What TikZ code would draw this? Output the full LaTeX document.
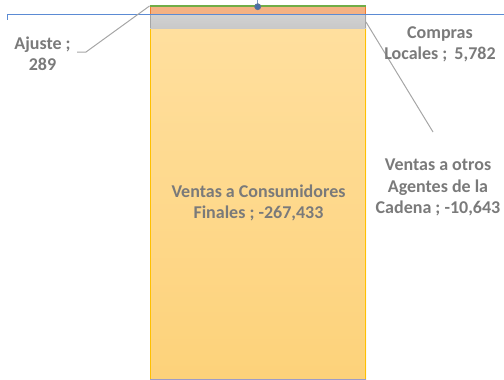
\documentclass[tikz,border=0pt]{standalone}
\usepackage{fontspec}
\setmainfont{Carlito}
\definecolor{txtgray}{HTML}{7A7A7A}
\definecolor{axisblue}{HTML}{5B8BD4}
\definecolor{ybord}{HTML}{FFC000}
\definecolor{ytop}{HTML}{FFDF9E}
\definecolor{ybot}{HTML}{FDD27A}
\definecolor{salmon}{HTML}{F4B183}
\definecolor{sbord}{HTML}{ED7D31}
\definecolor{gfill}{HTML}{C9C9C9}
\definecolor{gbord}{HTML}{A5A5A5}
\definecolor{green}{HTML}{70AD47}
\definecolor{leader}{HTML}{A6A6A6}
\definecolor{dotblue}{HTML}{4A6FA8}
\tikzset{
  lbl/.style={text=txtgray, font=\fontsize{18}{21.5}\selectfont\bfseries, align=center, inner sep=0pt},
  lead/.style={draw=leader, line width=1pt},
}
\begin{document}
\begin{tikzpicture}[x=1pt,y=-1pt]
\useasboundingbox (0,0) rectangle (504,380);
% bar segments
\shade[top color=ytop, bottom color=ybot] (150,28.5) rectangle (366,379);
\draw[ybord, line width=1.5pt] (150.5,379) -- (150.5,28.5) -- (365.5,28.5) -- (365.5,379);
\draw[gray!70!blue!60, line width=1pt] (150,379) -- (366,379);
\shade[top color=gfill!85, bottom color=gfill] (150,14.3) rectangle (366,28);
\draw[gbord, line width=1pt] (150.5,28) -- (150.5,14.3) (365.5,14.3) -- (365.5,28);
\fill[salmon] (150,6.5) rectangle (366,14.3);
\draw[sbord, line width=1pt] (150.5,6.5) -- (150.5,14.3) (365.5,6.5) -- (365.5,14.3);
\draw[green, line width=1.6pt] (150,5.8) -- (366,5.8);
% axis
\draw[axisblue, line width=1pt] (7.5,19.5) -- (7.5,14.3) -- (504,14.3);
% dot
\draw[dotblue!70, line width=0.8pt] (257.7,0) -- (257.7,4);
\node[circle, fill=dotblue, draw=dotblue!60!gray, line width=0.8pt, minimum size=6pt, inner sep=0pt] (dot) at (257.7,6.7) {};
% anchor coordinates
\coordinate (ajA) at (149.5,6);
\coordinate (ajB) at (86,52);
\coordinate (ajC) at (77,52);
\coordinate (coA) at (366,22);
\coordinate (coB) at (433,132);
% leaders
\draw[lead] (ajA) -- (ajB) -- (ajC);
\draw[lead] (coA) -- (coB);
% labels
\node[lbl] (aj) at (42.5,54) {Ajuste ;\\289};
\node[lbl] (co) at (440,44.5) {Compras\\Locales ;\, 5,782};
\node[lbl] (ve) at (438,187.5) {Ventas a otros\\Agentes de la\\Cadena ; -10,643};
\node[lbl] (vc) at (258.5,203) {Ventas a Consumidores\\Finales ; -267,433};
\end{tikzpicture}
\end{document}
